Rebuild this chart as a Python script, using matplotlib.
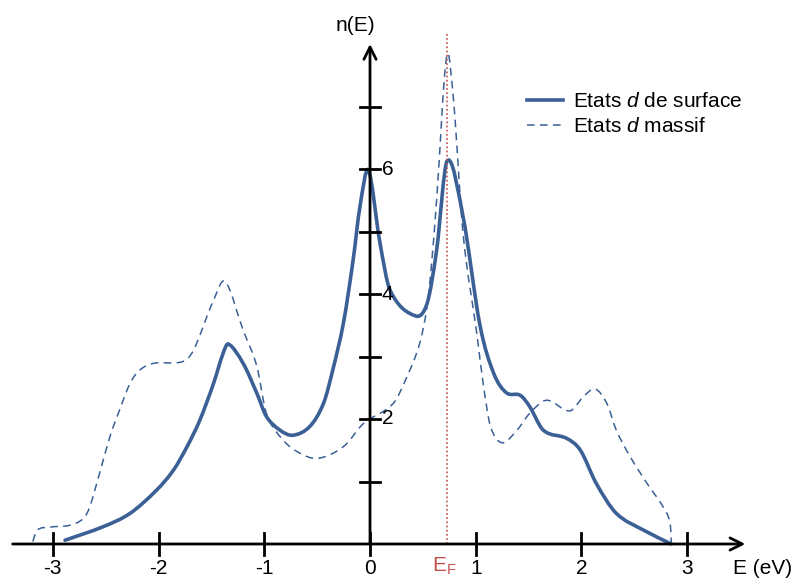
import numpy as np
import matplotlib
matplotlib.use("Agg")
import matplotlib.pyplot as plt
from matplotlib.path import Path
from matplotlib.patches import PathPatch
from matplotlib.lines import Line2D

plt.rcParams['font.family'] = ['Liberation Sans', 'DejaVu Sans']
plt.rcParams['mathtext.fontset'] = 'custom'
plt.rcParams['mathtext.rm'] = 'Liberation Sans'
plt.rcParams['mathtext.it'] = 'Liberation Sans:italic'

# density of d states at the surface (solid)
surf_E = [-2.885, -2.52, -2.27, -2.02, -1.86, -1.73, -1.61, -1.48, -1.39, -1.34,
          -1.2, -1.07, -0.98, -0.85, -0.73, -0.57, -0.44, -0.35, -0.25, -0.16,
          -0.095, -0.015, 0.09, 0.19, 0.43, 0.54, 0.63, 0.73,
          0.88, 1.04, 1.17, 1.29, 1.42, 1.51, 1.64, 1.86, 1.99, 2.14, 2.33,
          2.59, 2.85]
surf_n = [0.06, 0.28, 0.49, 0.86, 1.18, 1.56, 1.98, 2.57, 3.05, 3.2,
          2.89, 2.41, 2.04, 1.82, 1.74, 1.88, 2.25, 2.8, 3.55, 4.54,
          5.4, 5.98, 4.86, 4.06, 3.65, 3.85, 4.7, 6.13,
          5.24, 3.5, 2.73, 2.42, 2.38, 2.2, 1.82, 1.69, 1.5, 0.97, 0.49,
          0.22, 0.0]

# bulk d states (dashed)
bulk_E = [-3.19, -3.15, -3.03, -2.84, -2.71, -2.65, -2.55, -2.46, -2.37, -2.27,
          -2.18, -2.05, -1.77, -1.67, -1.48, -1.37, -1.2, -1.07, -0.98, -0.82,
          -0.66, -0.49, -0.25, -0.06, 0.22, 0.35, 0.47, 0.54, 0.58, 0.63, 0.725,
          0.79, 0.88, 1.01, 1.07, 1.14, 1.25, 1.39, 1.51, 1.67, 1.89,
          2.02, 2.13, 2.24, 2.33, 2.46, 2.62, 2.77, 2.84, 2.85]
bulk_n = [0.04, 0.22, 0.27, 0.3, 0.41, 0.6, 1.18, 1.72, 2.14, 2.57,
          2.78, 2.89, 2.92, 3.1, 3.9, 4.2, 3.42, 2.84, 2.09, 1.66,
          1.45, 1.37, 1.56, 1.93, 2.25, 2.68, 3.21, 3.8, 4.44, 5.5, 7.8,
          7.1, 4.97, 3.37, 2.57, 1.88, 1.62, 1.82, 2.09, 2.3, 2.13,
          2.36, 2.48, 2.25, 1.82, 1.4, 0.97, 0.6, 0.33, 0.01]

x_ticks = [-3, -2, -1, 0, 1, 2, 3]
y_ticks = [1, 2, 3, 4, 5, 6, 7]
y_labels = {2: '2', 4: '4', 6: '6'}
E_fermi = 0.73

blue = '#3b6096'
red = '#c0504d'
fs = 15


def smooth_path(xs, ys):
    # cubic hermite in x through the points, drawn as bezier segments
    x = np.asarray(xs, float)
    y = np.asarray(ys, float)
    n = len(x)
    m = np.zeros(n)
    m[1:-1] = (y[2:] - y[:-2]) / (x[2:] - x[:-2])
    m[0] = (y[1] - y[0]) / (x[1] - x[0])
    m[-1] = (y[-1] - y[-2]) / (x[-1] - x[-2])
    verts = [(x[0], y[0])]
    codes = [Path.MOVETO]
    for i in range(n - 1):
        h = x[i + 1] - x[i]
        verts += [(x[i] + h / 3, y[i] + m[i] * h / 3),
                  (x[i + 1] - h / 3, y[i + 1] - m[i + 1] * h / 3),
                  (x[i + 1], y[i + 1])]
        codes += [Path.CURVE4] * 3
    return Path(verts, codes)


fig = plt.figure(figsize=(7.95, 5.78), dpi=100)
ax = fig.add_axes([0, 0, 1, 1])
ax.set_xlim(-3.5, 4.02)
ax.set_ylim(-0.544, 8.704)
ax.axis('off')

# axes with arrows
ax.annotate('', xy=(3.55, 0), xytext=(-3.38, 0),
            arrowprops=dict(arrowstyle='->', lw=2, color='black', mutation_scale=22,
                            shrinkA=0, shrinkB=0))
ax.annotate('', xy=(0, 8.0), xytext=(0, 0),
            arrowprops=dict(arrowstyle='->', lw=2, color='black', mutation_scale=22,
                            shrinkA=0, shrinkB=0))

for t in x_ticks:
    ax.plot([t, t], [-0.17, 0.17], color='black', lw=2)
    ax.text(t, -0.4, str(t), ha='center', va='center', fontsize=fs)
for t in y_ticks:
    ax.plot([-0.095, 0.095], [t, t], color='black', lw=2)
    if t in y_labels:
        ax.text(0.11, t, y_labels[t], ha='left', va='center', fontsize=fs)

ax.text(-0.14, 8.3, 'n(E)', ha='center', va='center', fontsize=fs)
ax.text(3.43, -0.4, 'E (eV)', ha='left', va='center', fontsize=fs)

# Fermi level
ax.plot([E_fermi, E_fermi], [0, 8.18], color=red, lw=1.2, linestyle=(0, (1, 1.5)))
ax.text(E_fermi - 0.025, -0.36, r'E$_\mathregular{F}$', ha='center', va='center',
        fontsize=fs, color=red)

ax.add_patch(PathPatch(smooth_path(bulk_E, bulk_n), fill=False, edgecolor=blue,
                       lw=1.1, linestyle=(0, (5, 3.5))))
ax.add_patch(PathPatch(smooth_path(surf_E, surf_n), fill=False, edgecolor=blue,
                       lw=2.6, capstyle='round'))

handles = [Line2D([], [], color=blue, lw=2.6),
           Line2D([], [], color=blue, lw=1.1, linestyle=(0, (5, 3.5)))]
labels = [r'Etats $\mathit{d}$ de surface', r'Etats $\mathit{d}$ massif']
ax.legend(handles, labels, loc='upper left', bbox_to_anchor=(0.653, 0.855),
          frameon=False, fontsize=fs, handlelength=1.7, handletextpad=0.5,
          labelspacing=0.3, borderaxespad=0)

fig.savefig('out.png', dpi=100)
